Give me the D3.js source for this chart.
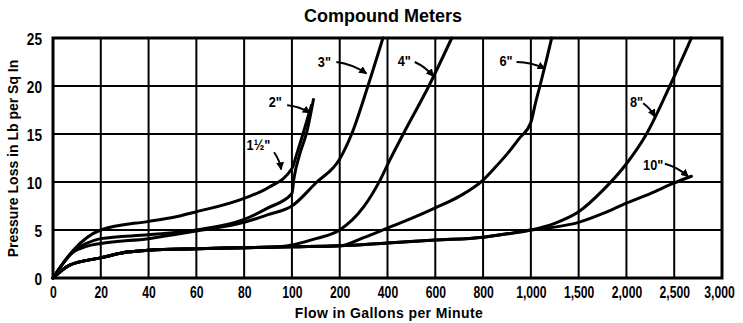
<!DOCTYPE html>
<html>
<head>
<meta charset="utf-8">
<script src="https://cdn.jsdelivr.net/npm/d3@7/dist/d3.min.js"></script>
<style>
  html, body { margin: 0; padding: 0; background: #fff; }
  svg { display: block; }
  .tick-x { font-family: "Liberation Sans", Arial, sans-serif; font-weight: bold; font-size: 16px; }
  .tick-y { font-family: "Liberation Sans", Arial, sans-serif; font-weight: bold; font-size: 17px; }
  .title { font-family: "Liberation Sans", Arial, sans-serif; font-weight: bold; font-size: 18px; }
  .axis-title { font-family: "Liberation Sans", Arial, sans-serif; font-weight: bold; font-size: 14px; }
  .size-label { font-family: "Liberation Sans", Arial, sans-serif; font-weight: bold; font-size: 15px; }
</style>
</head>
<body>
<svg id="chart" width="743" height="323"></svg>
<script>
// Flow axis breaks (gpm): the scale is stretched piecewise, every break is one grid cell.
const flowBreaks = [0, 20, 40, 60, 80, 100, 200, 400, 600, 800, 1000, 1500, 2000, 2500, 3000];
const lossTicks = [0, 5, 10, 15, 20, 25];

// Pressure loss (lb per sq in) against flow (gpm) for each compound meter size.
const meter1_5 = [[0, 0], [8.5, 2.9], [20, 5.0], [40, 5.9], [50, 6.3], [60, 6.9], [80, 8.3], [90, 9.4], [100, 11.4], [110, 12.9], [123, 15.0], [135, 17.0], [141, 18.0]];
const meter2 = [[0, 0], [8.5, 2.8], [14, 3.6], [20, 4.1], [40, 4.5], [60, 5.0], [80, 6.1], [90, 7.3], [100, 8.8], [104, 10.3], [117, 13.0], [131, 15.2], [145, 18.6]];
const meter3 = [[0, 0], [8.5, 2.7], [14, 3.3], [20, 3.6], [40, 4.1], [60, 4.9], [80, 5.8], [90, 6.6], [100, 7.5], [150, 9.9], [200, 12.4], [250, 15.0], [318, 20.0], [381, 25.0]];
const meter4 = [[0, 0], [7, 1.35], [20, 2.1], [31, 2.7], [40, 2.9], [60, 3.05], [80, 3.15], [95, 3.25], [150, 4.1], [200, 5.0], [300, 7.4], [369, 10.2], [410, 12.3], [466, 15.0], [573, 20.0], [669, 25.0]];
const meter6 = [[0, 0], [7, 1.35], [20, 2.1], [31, 2.7], [40, 2.9], [60, 3.05], [80, 3.15], [100, 3.25], [200, 3.35], [300, 4.2], [400, 5.2], [500, 6.2], [600, 7.3], [700, 8.5], [800, 10.2], [850, 11.5], [900, 12.9], [950, 14.5], [1000, 16.2], [1050, 18.3], [1095, 20.0], [1160, 22.6], [1218, 25.0]];
const meter8 = [[0, 0], [7, 1.35], [20, 2.1], [31, 2.7], [40, 2.9], [60, 3.05], [80, 3.15], [100, 3.25], [200, 3.35], [400, 3.65], [600, 3.95], [800, 4.25], [900, 4.6], [1000, 5.0], [1250, 5.7], [1500, 6.9], [1750, 9.1], [2000, 11.9], [2210, 15.0], [2454, 20.0], [2680, 25.0]];
const meter10 = [[0, 0], [7, 1.35], [20, 2.1], [31, 2.7], [40, 2.9], [60, 3.05], [80, 3.15], [100, 3.25], [200, 3.35], [400, 3.65], [600, 3.95], [800, 4.25], [900, 4.6], [1000, 5.0], [1250, 5.3], [1500, 5.8], [1750, 6.7], [2000, 7.8], [2250, 8.8], [2500, 9.9], [2680, 10.6]];

// Size callouts: label text, label centre, arrow start and arrow tip (gpm, psi).
const calloutNames = ['1\u00BD"', '2"', '3"', '4"', '6"', '8"', '10"'];
const calloutText = [[86, 13.9], [93, 18.4], [168, 22.5], [470, 22.6], [896, 22.6], [2105, 18.4], [2280, 11.8]];
const calloutFrom = [[92.5, 13.1], [98, 18.0], [193, 22.5], [514, 22.5], [940, 22.5], [2175, 18.2], [2402, 11.9]];
const calloutTip = [[95.5, 11.3], [138, 17.2], [312, 21.3], [592, 21.0], [1146, 21.8], [2297, 16.8], [2647, 10.55]];

const series = [meter1_5, meter2, meter3, meter4, meter6, meter8, meter10];

const svg = d3.select('#chart');
const W = 743, H = 323;
const margin = { left: 53, right: 21, top: 38, bottom: 45 };
const plotW = W - margin.left - margin.right;
const plotH = H - margin.top - margin.bottom;
const cell = plotW / (flowBreaks.length - 1);

const x = d3.scaleLinear()
  .domain(flowBreaks)
  .range(flowBreaks.map((d, i) => margin.left + i * cell));
const y = d3.scaleLinear()
  .domain([0, 25])
  .range([margin.top + plotH, margin.top]);

// Squeeze a text run horizontally so it reads as a condensed face.
function condense(sel, factor) {
  sel.each(function () {
    const w = this.getComputedTextLength();
    d3.select(this).attr('textLength', w * factor).attr('lengthAdjust', 'spacingAndGlyphs');
  });
}

// Grid
const grid = svg.append('g').attr('stroke', '#000').attr('stroke-width', 2);
grid.selectAll('line.v').data(flowBreaks.slice(1, -1)).join('line')
  .attr('x1', d => x(d)).attr('x2', d => x(d))
  .attr('y1', y(0)).attr('y2', y(25));
grid.selectAll('line.h').data(lossTicks.slice(1, -1)).join('line')
  .attr('x1', x(0)).attr('x2', x(3000))
  .attr('y1', d => y(d)).attr('y2', d => y(d));

// Frame
svg.append('rect')
  .attr('x', x(0)).attr('y', y(25))
  .attr('width', x(3000) - x(0)).attr('height', y(0) - y(25))
  .attr('fill', 'none').attr('stroke', '#000').attr('stroke-width', 3);

// Axes (labels only)
const xAxis = d3.axisBottom(x).tickValues(flowBreaks).tickFormat(d3.format(',')).tickSize(0).tickPadding(9);
const gx = svg.append('g').attr('transform', `translate(0,${y(0)})`).call(xAxis);
gx.select('.domain').remove();
gx.selectAll('text').attr('class', 'tick-x').attr('fill', '#000').call(condense, 0.76);
// keep the last flow label inside the page
gx.selectAll('text').filter(d => d === 3000).attr('dx', -3);

const yAxis = d3.axisLeft(y).tickValues(lossTicks).tickFormat(d3.format('d')).tickSize(0).tickPadding(11);
const gy = svg.append('g').attr('transform', `translate(${x(0)},0)`).call(yAxis);
gy.select('.domain').remove();
gy.selectAll('text').attr('class', 'tick-y').attr('fill', '#000').attr('dy', '0.4em').call(condense, 0.8);

// Curves
const line = d3.line()
  .x(d => x(d[0]))
  .y(d => y(d[1]))
  .curve(d3.curveMonotoneX);
svg.append('g').selectAll('path').data(series).join('path')
  .attr('d', line)
  .attr('fill', 'none')
  .attr('stroke', '#000')
  .attr('stroke-width', 3)
  .attr('stroke-linejoin', 'round')
  .attr('stroke-linecap', 'round');

// Callout arrows
svg.append('defs').append('marker')
  .attr('id', 'head')
  .attr('viewBox', '0 0 10 10')
  .attr('refX', 9).attr('refY', 5)
  .attr('markerWidth', 4).attr('markerHeight', 4)
  .attr('markerUnits', 'strokeWidth')
  .attr('orient', 'auto')
  .append('path').attr('d', 'M0,0 L10,5 L0,10 Z').attr('fill', '#000');

const callouts = svg.append('g');
calloutNames.forEach((name, i) => {
  const [fx, fy] = [x(calloutFrom[i][0]), y(calloutFrom[i][1])];
  const [tx, ty] = [x(calloutTip[i][0]), y(calloutTip[i][1])];
  const mx = (fx + tx) / 2 + (ty - fy) * 0.12;
  const my = (fy + ty) / 2 - (tx - fx) * 0.12;
  callouts.append('path')
    .attr('d', `M${fx},${fy} Q${mx},${my} ${tx},${ty}`)
    .attr('fill', 'none').attr('stroke', '#000').attr('stroke-width', 2)
    .attr('marker-end', 'url(#head)');
  callouts.append('text')
    .attr('class', 'size-label')
    .attr('x', x(calloutText[i][0])).attr('y', y(calloutText[i][1]))
    .attr('text-anchor', 'middle').attr('dy', '0.35em')
    .text(name)
    .call(condense, 0.85);
});

// Titles
svg.append('text').attr('class', 'title')
  .attr('x', 383).attr('y', 22).attr('text-anchor', 'middle')
  .text('Compound Meters');
svg.append('text').attr('class', 'axis-title')
  .attr('x', 389).attr('y', 318).attr('text-anchor', 'middle')
  .attr('letter-spacing', '0.4px')
  .text('Flow in Gallons per Minute');
const yTitle = svg.append('text').attr('class', 'axis-title')
  .attr('transform', `translate(18,158.5) rotate(-90)`)
  .attr('text-anchor', 'middle')
  .text('Pressure Loss in Lb per Sq In');
const yTitleLen = yTitle.node().getComputedTextLength();
if (yTitleLen > 203) yTitle.attr('textLength', 203).attr('lengthAdjust', 'spacingAndGlyphs');
</script>
</body>
</html>
